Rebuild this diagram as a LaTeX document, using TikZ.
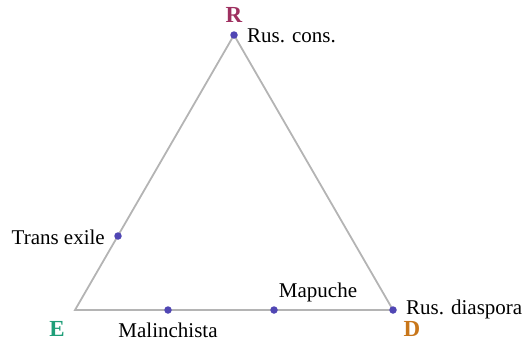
\documentclass[tikz,border=0pt]{standalone}
\usepackage{fontspec}
\setmainfont{Liberation Serif}
\definecolor{edgegray}{HTML}{B4B4B4}
\definecolor{dotblue}{HTML}{5046B4}
\definecolor{rcol}{HTML}{9E3060}
\definecolor{ecol}{HTML}{1E9E78}
\definecolor{dcol}{HTML}{C8761A}
\begin{document}
\begin{tikzpicture}[x=1pt,y=-1pt,
  edge/.style={draw=edgegray,line width=1.8pt},
  pt/.style={circle,fill=dotblue,inner sep=0pt,minimum size=7.5pt},
  lab/.style={font=\fontsize{21}{24}\selectfont,inner sep=0pt},
  vlab/.style={font=\fontsize{23}{26}\selectfont\bfseries,inner sep=0pt}]
\useasboundingbox (0,0) rectangle (529,341);
\coordinate (R) at (234,35);
\coordinate (E) at (75,310);
\coordinate (D) at (393,310);
\draw[edge] (R) -- (E) -- (D) -- cycle;
\node[pt] (rc) at (234,35) {};
\node[pt] (te) at (118,236) {};
\node[pt] (ma) at (168,310) {};
\node[pt] (mp) at (274,310) {};
\node[pt] (rd) at (393,310) {};
\node[lab,anchor=west] (trc) at (247,36) {Rus. cons.};
\node[lab,anchor=east] (tte) at (105,237) {Trans exile};
\node[lab] (tma) at (168,330) {Malinchista};
\node[lab] (tmp) at (318,292) {Mapuche};
\node[lab,anchor=west] (trd) at (406,309) {Rus. diaspora};
\node[vlab,text=rcol] (lr) at (234,15) {R};
\node[vlab,text=ecol] (le) at (57,329) {E};
\node[vlab,text=dcol] (ld) at (412,329) {D};
\end{tikzpicture}
\end{document}
